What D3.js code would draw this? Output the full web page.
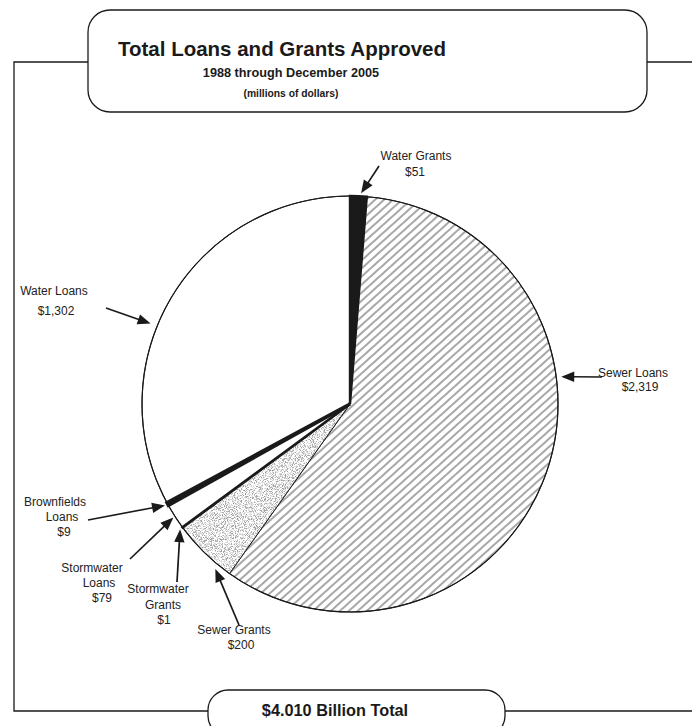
<!DOCTYPE html>
<html>
<head>
<meta charset="utf-8">
<script src="https://cdn.jsdelivr.net/npm/d3@7"></script>
<style>
  html, body { margin: 0; padding: 0; background: #fff; }
  svg { display: block; font-family: "Liberation Sans", Arial, Helvetica, sans-serif; }
</style>
</head>
<body>
<svg id="chart" width="692" height="726"></svg>
<script>
// Loan and grant programs, clockwise from 12 o'clock
const categories = ["Water Grants", "Sewer Loans", "Sewer Grants", "Stormwater Grants",
                    "Stormwater Loans", "Brownfields Loans", "Water Loans"];
// Amounts approved, millions of dollars
const amounts = [51, 2319, 200, 1, 79, 9, 1302];

const titleText = "Total Loans and Grants Approved";
const subtitleText = "1988 through December 2005";
const unitsText = "(millions of dollars)";
const totalText = "$4.010 Billion Total";

// ---- layout & styling ----
const W = 692, H = 726;
const cx = 350, cy = 404, R = 208;
const ink = "#1a1a1a";

// slice appearance per program
const sliceStyle = {
  "Water Grants":      { fill: ink, stroke: 2.4, dark: true },
  "Sewer Loans":       { fill: "url(#hatch)", stroke: 1 },
  "Sewer Grants":      { fill: "#fff", stroke: 1, speckle: true },
  "Stormwater Grants": { fill: ink, stroke: 2.6, dark: true },
  "Stormwater Loans":  { fill: "#fff", stroke: 1 },
  "Brownfields Loans": { fill: ink, stroke: 3.4, dark: true },
  "Water Loans":       { fill: "#fff", stroke: 1 }
};

// callout placement: text line anchors, arrow tail, and where along the slice the arrow lands
const callouts = {
  "Water Grants":      { lines: [[416, 160], [415, 176]], wrap: false, tail: [379, 166], frac: 0.65, r: R + 3 },
  "Sewer Loans":       { lines: [[633, 377], [640, 391]], wrap: false, tail: [602, 377], frac: 0.37, r: R + 5 },
  "Sewer Grants":      { lines: [[234, 634], [241, 649]], wrap: false, tail: [239, 625], frac: 0.21, r: R + 5 },
  "Stormwater Grants": { lines: [[158, 593], [163, 609], [164, 624]], wrap: true, tail: [177, 582], frac: 0.5, r: R + 3 },
  "Stormwater Loans":  { lines: [[92, 572], [99, 587], [102, 602]], wrap: true, tail: [130, 559], frac: 0.5, r: R + 2 },
  "Brownfields Loans": { lines: [[55, 506], [62, 521], [64, 536]], wrap: true, tail: [88, 520], frac: 0.5, r: R + 3 },
  "Water Loans":       { lines: [[54, 295], [56, 315]], wrap: false, tail: [106, 308], frac: 0.425, r: R + 7 }
};

const svg = d3.select("#chart");
const defs = svg.append("defs");

// diagonal hatching
const hatchGap = 6;
const hatch = defs.append("pattern")
  .attr("id", "hatch").attr("patternUnits", "userSpaceOnUse")
  .attr("width", 10).attr("height", hatchGap)
  .attr("patternTransform", "rotate(-42)");
hatch.append("rect").attr("width", 10).attr("height", hatchGap).attr("fill", "#fff");
hatch.append("line").attr("x1", 0).attr("x2", 10).attr("y1", hatchGap / 2).attr("y2", hatchGap / 2)
  .attr("stroke", "#222").attr("stroke-width", 0.8);

// fine speckle texture
const speckle = defs.append("filter").attr("id", "speckle")
  .attr("x", "0").attr("y", "0").attr("width", "1").attr("height", "1");
speckle.append("feTurbulence").attr("type", "fractalNoise")
  .attr("baseFrequency", 1.1).attr("numOctaves", 2).attr("seed", 7).attr("result", "noise");
speckle.append("feColorMatrix").attr("in", "noise").attr("type", "matrix")
  .attr("values", "0 0 0 0 0.3  0 0 0 0 0.3  0 0 0 0 0.3  1 0 0 0 0").attr("result", "a");
speckle.append("feComponentTransfer").attr("in", "a").attr("result", "dots")
  .append("feFuncA").attr("type", "discrete").attr("tableValues", "0 0 0 0 0 0.35 0.75 0.95 1 1");
speckle.append("feComposite").attr("in", "dots").attr("in2", "SourceAlpha").attr("operator", "in");

// ---- frame ----
const frame = svg.append("g").attr("stroke", ink).attr("stroke-width", 1.3).attr("fill", "none");
frame.append("path").attr("d", `M${W},62 H14 V711 H${W}`);

// title box
svg.append("rect").attr("x", 88).attr("y", 10).attr("width", 559).attr("height", 102)
  .attr("rx", 22).attr("ry", 22).attr("fill", "#fff").attr("stroke", ink).attr("stroke-width", 1.3);
svg.append("text").attr("x", 118).attr("y", 56).attr("font-size", 20.5).attr("font-weight", "bold")
  .attr("fill", ink).text(titleText);
svg.append("text").attr("x", 291).attr("y", 77).attr("font-size", 12.7).attr("font-weight", "bold")
  .attr("text-anchor", "middle").attr("fill", ink).text(subtitleText);
svg.append("text").attr("x", 291).attr("y", 97).attr("font-size", 10.3).attr("font-weight", "bold")
  .attr("text-anchor", "middle").attr("fill", ink).text(unitsText);

// total box
svg.append("rect").attr("x", 208).attr("y", 690).attr("width", 297).attr("height", 46)
  .attr("rx", 20).attr("ry", 20).attr("fill", "#fff").attr("stroke", ink).attr("stroke-width", 1.3);
svg.append("text").attr("x", 335).attr("y", 716).attr("font-size", 16.3).attr("font-weight", "bold")
  .attr("text-anchor", "middle").attr("fill", ink).text(totalText);

// ---- pie ----
const data = categories.map((name, i) => ({ name, value: amounts[i] }));
const pie = d3.pie().sort(null).value(d => d.value);
const arcs = pie(data);
const arc = d3.arc().innerRadius(0).outerRadius(R);

const g = svg.append("g").attr("transform", `translate(${cx},${cy})`);

// light slices first, dark slices on top so their heavy edges stay visible
const ordered = arcs.filter(d => !sliceStyle[d.data.name].dark)
  .concat(arcs.filter(d => sliceStyle[d.data.name].dark));

ordered.forEach(d => {
  const st = sliceStyle[d.data.name];
  g.append("path").attr("d", arc(d)).attr("fill", st.fill).attr("stroke", "none");
  if (st.speckle) {
    g.append("path").attr("d", arc(d)).attr("fill", "#4a4a4a").attr("filter", "url(#speckle)");
  }
  g.append("path").attr("d", arc(d)).attr("fill", st.dark ? st.fill : "none")
    .attr("stroke", ink).attr("stroke-width", st.stroke).attr("stroke-linejoin", "miter");
});
g.append("circle").attr("r", R).attr("fill", "none").attr("stroke", ink).attr("stroke-width", 1.2);

// ---- callouts ----
const money = d3.format("$,");
const labelG = svg.append("g").attr("font-size", 12).attr("fill", "#222").attr("text-anchor", "middle");
const arrowG = svg.append("g");

arcs.forEach(d => {
  const c = callouts[d.data.name];
  const words = c.wrap ? d.data.name.split(" ") : [d.data.name];
  const texts = words.concat([money(d.data.value)]);
  texts.forEach((t, i) => {
    labelG.append("text").attr("x", c.lines[i][0]).attr("y", c.lines[i][1]).text(t);
  });

  // arrow lands inside the slice at the chosen fraction of its sweep
  const a = d.startAngle + c.frac * (d.endAngle - d.startAngle);
  const p = d3.pointRadial(a, c.r);
  const tip = [cx + p[0], cy + p[1]];
  const [tx, ty] = c.tail;
  const dx = tip[0] - tx, dy = tip[1] - ty;
  const len = Math.hypot(dx, dy);
  const ux = dx / len, uy = dy / len;
  const headL = 13, headW = 5.2;
  const bx = tip[0] - ux * headL, by = tip[1] - uy * headL;
  arrowG.append("line").attr("x1", tx).attr("y1", ty).attr("x2", bx + ux * 2).attr("y2", by + uy * 2)
    .attr("stroke", ink).attr("stroke-width", 1.7);
  arrowG.append("path")
    .attr("d", `M${tip[0]},${tip[1]} L${bx - uy * headW},${by + ux * headW} L${bx + uy * headW},${by - ux * headW} Z`)
    .attr("fill", ink);
});
</script>
</body>
</html>
